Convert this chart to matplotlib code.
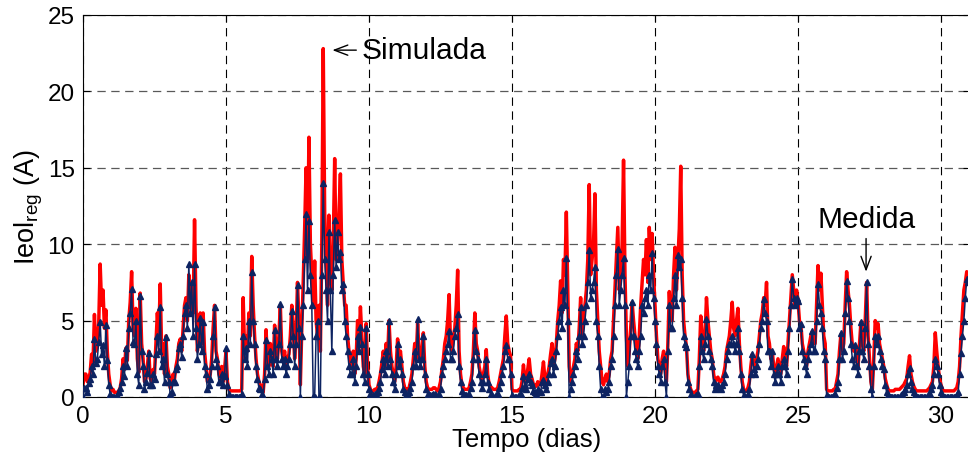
import numpy as np
import matplotlib
matplotlib.use("Agg")
import matplotlib.pyplot as plt

plt.rcParams['font.family'] = ['Liberation Sans', 'DejaVu Sans']
plt.rcParams['lines.scale_dashes'] = False

# amostragem de 0.05 dia (20 valores por dia)
dt = 0.05

# corrente simulada (A)
simulada = [
    0.8, 1.5, 1.5, 1.0, 1.2, 1.6, 2.8, 2.2, 5.4, 3.0, 3.5, 4.8, 8.7, 6.0, 7.0, 4.5, 5.7, 3.0, 1.5, 0.8,      # dia 0
    0.4, 0.5, 0.3, 0.3, 0.3, 0.4, 0.6, 1.2, 2.5, 1.8, 3.2, 2.4, 5.0, 6.2, 8.2, 4.5, 4.0, 5.8, 2.5, 1.6,      # dia 1
    6.8, 3.5, 2.5, 1.0, 1.2, 2.0, 3.0, 1.2, 1.0, 1.8, 1.5, 3.5, 5.5, 4.0, 7.4, 3.0, 3.5, 1.5, 4.0, 2.0,      # dia 2
    1.5, 0.6, 0.8, 1.5, 1.2, 2.0, 2.5, 3.5, 3.8, 3.0, 4.5, 6.0, 6.5, 5.0, 8.0, 6.0, 7.5, 5.5, 11.6, 6.0,     # dia 3
    3.0, 4.0, 5.5, 3.5, 5.5, 3.0, 2.0, 1.0, 1.0, 1.5, 2.5, 4.5, 6.0, 3.0, 2.5, 1.5, 1.2, 2.0, 1.0, 1.8,      # dia 4
    3.0, 1.0, 0.5, 0.4, 0.4, 0.4, 0.4, 0.4, 0.4, 0.4, 0.4, 0.5, 6.5, 3.0, 4.0, 3.0, 5.5, 4.0, 9.2, 6.0,      # dia 5
    4.0, 2.5, 1.5, 1.0, 0.8, 0.5, 0.3, 1.5, 4.4, 2.5, 2.0, 3.5, 3.0, 2.0, 4.7, 3.0, 2.5, 4.0, 6.0, 3.0,      # dia 6
    2.5, 3.0, 2.0, 2.5, 2.8, 4.0, 6.0, 4.5, 2.5, 4.0, 7.5, 5.0, 0.8, 4.5, 7.5, 11.0, 15.0, 9.0, 17.0, 10.0,  # dia 7
    8.0, 6.0, 8.9, 5.0, 4.0, 6.0, 3.0, 10.0, 22.8, 12.0, 9.5, 6.0, 11.9, 8.0, 7.0, 10.0, 15.6, 9.0, 10.0, 12.0,  # dia 8
    14.6, 9.0, 7.4, 6.0, 6.0, 4.0, 3.0, 2.0, 2.0, 3.0, 1.5, 2.5, 5.0, 3.5, 5.9, 4.0, 2.0, 1.5, 4.8, 2.0,    # dia 9
    0.8, 0.5, 0.3, 0.4, 0.5, 0.5, 0.6, 1.0, 1.5, 2.2, 3.0, 2.0, 3.5, 2.5, 5.0, 3.0, 2.0, 1.5, 1.0, 2.0,      # dia 10
    3.8, 2.5, 3.0, 2.0, 1.0, 0.6, 0.5, 0.5, 0.6, 1.0, 1.5, 2.5, 3.5, 2.5, 4.8, 3.0, 2.5, 3.0, 4.2, 2.0,      # dia 11
    1.0, 0.6, 0.5, 0.5, 0.5, 0.6, 0.6, 0.5, 0.4, 0.6, 1.0, 1.8, 2.5, 3.5, 4.0, 5.0, 6.7, 3.5, 3.0, 4.0,      # dia 12
    4.5, 6.0, 8.3, 3.0, 1.5, 0.8, 0.6, 0.5, 0.5, 0.5, 0.6, 1.0, 1.5, 3.0, 5.5, 3.5, 3.0, 2.0, 1.5, 1.0,      # dia 13
    1.5, 2.0, 3.1, 1.5, 0.8, 0.7, 0.6, 0.5, 0.5, 0.5, 0.6, 1.0, 1.5, 2.0, 2.5, 4.0, 5.3, 3.5, 3.0, 2.7,      # dia 14
    0.5, 0.4, 0.4, 0.4, 0.4, 0.5, 0.5, 1.0, 2.1, 1.2, 1.0, 1.8, 2.5, 1.5, 1.2, 0.8, 0.8, 0.7, 1.0, 0.8,      # dia 15
    0.8, 1.5, 2.3, 1.2, 1.0, 1.5, 2.0, 2.8, 3.5, 2.0, 2.5, 3.5, 5.0, 6.0, 7.6, 5.5, 9.0, 8.0, 12.1, 7.0,     # dia 16
    2.0, 1.0, 1.5, 2.0, 2.5, 3.5, 3.0, 4.5, 6.5, 4.0, 5.0, 6.0, 7.0, 9.0, 13.9, 8.0, 9.0, 10.0, 13.3, 7.0,   # dia 17
    5.0, 3.0, 2.0, 1.0, 0.8, 1.2, 1.5, 1.0, 1.5, 2.5, 3.0, 5.0, 7.0, 9.0, 11.1, 7.0, 8.0, 10.0, 15.5, 8.0,   # dia 18
    4.0, 2.0, 3.0, 4.5, 6.2, 5.0, 4.0, 3.0, 2.5, 4.0, 6.0, 7.5, 9.0, 8.0, 10.3, 7.5, 11.1, 9.0, 10.7, 8.0,   # dia 19
    6.0, 4.0, 2.5, 2.0, 1.5, 2.5, 3.0, 2.0, 1.0, 3.5, 6.9, 5.0, 5.0, 8.0, 9.8, 7.0, 9.0, 11.0, 15.1, 8.0,    # dia 20
    5.0, 4.0, 3.3, 1.5, 0.8, 0.5, 0.3, 0.3, 0.3, 0.4, 0.5, 2.5, 5.3, 4.0, 3.0, 4.0, 6.5, 5.0, 4.0, 3.0,      # dia 21
    2.5, 1.5, 1.0, 1.2, 1.3, 1.0, 1.0, 1.2, 1.5, 2.0, 3.0, 3.5, 4.0, 5.0, 6.2, 4.5, 4.0, 5.0, 5.8, 3.5,      # dia 22
    2.0, 1.0, 0.5, 0.4, 0.4, 0.6, 1.0, 2.0, 2.8, 2.2, 2.0, 2.5, 3.0, 4.0, 5.0, 5.5, 6.5, 6.0, 7.5, 4.0,      # dia 23
    3.5, 2.5, 3.0, 2.0, 1.5, 2.0, 2.5, 2.0, 1.5, 2.5, 3.3, 2.5, 2.0, 3.5, 5.0, 6.5, 8.0, 7.0, 6.0, 7.0,      # dia 24
    6.3, 5.0, 4.8, 3.5, 3.0, 2.5, 2.0, 3.0, 3.5, 4.0, 4.3, 3.5, 3.5, 6.0, 8.6, 7.0, 8.1, 6.0, 4.0, 3.5,      # dia 25
    0.5, 0.4, 0.4, 0.4, 0.4, 0.5, 0.5, 1.0, 1.5, 3.0, 4.1, 3.0, 3.5, 6.0, 8.2, 7.0, 6.0, 4.5, 3.4, 3.0,      # dia 26
    3.4, 2.5, 2.0, 3.5, 4.9, 3.5, 3.0, 5.0, 7.5, 4.0, 2.5, 1.0, 0.5, 2.5, 5.0, 4.5, 4.8, 3.5, 3.0, 2.5,      # dia 27
    2.0, 1.2, 0.8, 0.5, 0.4, 0.4, 0.4, 0.4, 0.5, 0.5, 0.5, 0.5, 0.6, 0.7, 0.8, 1.0, 1.2, 2.0, 2.7, 1.5,      # dia 28
    1.0, 0.7, 0.5, 0.4, 0.4, 0.4, 0.4, 0.4, 0.4, 0.4, 0.4, 0.5, 0.6, 0.8, 1.0, 2.0, 4.2, 3.0, 2.0, 1.2,      # dia 29
    0.8, 0.5, 0.4, 0.4, 0.4, 0.4, 0.4, 0.4, 0.4, 0.4, 0.5, 0.6, 1.0, 2.0, 4.0, 5.5, 7.0, 7.5, 8.2, 8.0,      # dia 30
]

# corrente medida (A)
medida = [
    0.0, 0.6, 0.6, 0.3, 0.9, 1.2, 2.0, 1.5, 3.8, 2.2, 2.5, 3.6, 4.9, 2.8, 3.4, 2.0, 4.7, 2.4, 0.8, 0.2,
    0.0, 0.0, 0.0, 0.0, 0.1, 0.3, 0.6, 1.0, 2.0, 1.4, 3.2, 2.0, 4.5, 5.5, 7.1, 3.6, 3.5, 5.0, 1.5, 0.8,
    6.6, 3.0, 2.0, 0.5, 1.0, 1.6, 2.9, 0.8, 0.8, 1.5, 1.2, 2.8, 4.0, 3.0, 5.9, 2.0, 2.5, 1.0, 3.9, 1.5,
    1.0, 0.2, 0.3, 1.0, 1.0, 1.8, 2.0, 3.2, 3.5, 2.6, 4.0, 5.5, 6.0, 4.5, 8.7, 5.5, 7.5, 4.0, 8.7, 4.5,
    2.5, 3.5, 5.2, 3.0, 4.9, 2.0, 1.5, 0.5, 0.8, 1.2, 2.0, 4.0, 5.9, 2.5, 2.0, 1.0, 1.0, 1.5, 0.8, 1.4,
    3.2, 0.8, 0.2, 0.0, 0.0, 0.0, 0.0, 0.0, 0.0, 0.0, 0.0, 0.2, 4.0, 2.5, 3.2, 2.0, 5.0, 3.5, 8.2, 5.0,
    3.5, 2.0, 1.2, 0.6, 0.5, 0.2, 0.0, 1.2, 3.7, 2.0, 1.5, 3.0, 2.5, 1.5, 4.4, 2.5, 2.0, 3.5, 6.1, 2.5,
    2.0, 2.5, 1.5, 2.0, 2.5, 3.5, 5.6, 4.0, 2.0, 3.5, 7.3, 4.5, 0.0, 4.0, 6.0, 9.0, 12.0, 7.0, 11.5, 8.0,
    6.0, 0.0, 0.0, 4.0, 5.0, 0.0, 0.0, 8.0, 14.0, 9.0, 7.0, 5.0, 10.8, 7.0, 3.0, 8.0, 11.6, 8.5, 10.8, 9.0,
    9.5, 7.0, 7.4, 5.0, 4.0, 3.0, 2.0, 1.5, 1.5, 2.5, 1.0, 2.0, 4.0, 3.0, 4.6, 3.5, 1.5, 1.0, 4.5, 1.5,
    0.5, 0.2, 0.0, 0.1, 0.2, 0.2, 0.3, 0.6, 1.0, 1.8, 2.5, 1.5, 3.0, 2.0, 5.0, 2.5, 1.5, 1.0, 0.5, 1.5,
    3.5, 2.0, 2.5, 1.5, 0.5, 0.3, 0.1, 0.1, 0.3, 0.6, 1.0, 2.0, 3.0, 2.0, 5.1, 2.5, 2.0, 2.5, 4.0, 1.5,
    0.5, 0.2, 0.1, 0.1, 0.1, 0.2, 0.2, 0.1, 0.0, 0.2, 0.5, 1.5, 2.0, 2.5, 3.0, 3.5, 4.3, 2.5, 2.5, 3.0,
    4.0, 4.5, 5.4, 2.0, 1.0, 0.4, 0.1, 0.1, 0.1, 0.1, 0.2, 0.6, 1.0, 2.5, 4.4, 3.0, 2.5, 1.5, 1.0, 0.6,
    1.0, 1.5, 2.5, 1.0, 0.5, 0.2, 0.1, 0.0, 0.0, 0.1, 0.2, 0.6, 1.0, 1.5, 2.0, 3.0, 3.4, 2.5, 2.5, 1.5,
    0.1, 0.0, 0.0, 0.0, 0.0, 0.1, 0.2, 0.6, 1.4, 0.8, 0.5, 1.2, 1.5, 1.0, 0.8, 0.4, 0.3, 0.2, 0.5, 0.3,
    0.3, 1.0, 1.1, 0.8, 0.5, 1.0, 1.5, 2.2, 2.5, 1.5, 2.0, 3.0, 4.0, 5.0, 5.9, 4.5, 7.0, 6.0, 9.1, 5.0,
    0.0, 0.5, 1.0, 1.5, 2.0, 3.0, 2.5, 4.0, 5.9, 3.5, 4.0, 5.0, 6.0, 7.5, 9.6, 6.5, 7.0, 7.5, 8.5, 5.0,
    4.0, 2.0, 0.5, 0.0, 0.0, 0.5, 0.3, 0.5, 1.0, 2.0, 2.5, 4.0, 6.0, 8.0, 9.7, 6.0, 7.0, 8.0, 9.1, 6.0,
    0.0, 1.0, 2.0, 4.0, 6.2, 4.0, 3.0, 2.5, 2.0, 3.0, 4.0, 6.0, 5.5, 6.5, 7.0, 6.0, 8.0, 7.0, 9.4, 6.5,
    5.0, 3.5, 2.0, 1.5, 1.0, 2.0, 2.5, 1.0, 0.0, 3.0, 6.0, 4.5, 4.5, 6.5, 8.0, 6.0, 9.3, 8.5, 9.0, 6.5,
    4.0, 3.5, 3.3, 1.0, 0.5, 0.2, 0.0, 0.0, 0.0, 0.1, 0.2, 2.0, 4.0, 3.0, 2.5, 3.5, 5.1, 4.0, 3.0, 2.5,
    2.0, 1.0, 0.5, 0.8, 0.8, 0.6, 0.5, 0.8, 1.0, 1.5, 2.5, 3.0, 3.5, 3.5, 4.0, 3.5, 3.0, 3.5, 4.5, 3.0,
    1.5, 0.5, 0.1, 0.0, 0.0, 0.2, 0.5, 1.5, 2.8, 1.8, 1.5, 2.0, 2.5, 3.5, 4.5, 5.0, 6.4, 5.5, 5.0, 3.0,
    3.0, 2.0, 3.0, 1.5, 1.0, 1.5, 2.0, 1.5, 1.0, 2.0, 2.5, 2.0, 1.5, 3.0, 4.5, 6.0, 7.7, 6.5, 6.0, 6.5,
    6.3, 4.5, 4.8, 3.0, 2.5, 2.0, 1.5, 2.5, 3.0, 3.5, 4.3, 3.0, 3.0, 5.0, 7.4, 6.0, 5.5, 4.5, 3.0, 2.5,
    0.1, 0.0, 0.0, 0.0, 0.0, 0.1, 0.2, 0.6, 1.0, 2.5, 4.2, 2.5, 3.0, 5.5, 7.6, 6.5, 5.0, 3.5, 2.5, 2.0,
    3.4, 2.0, 1.5, 3.0, 4.9, 3.0, 2.5, 4.5, 7.5, 3.5, 2.0, 0.5, 0.0, 2.0, 4.0, 3.5, 4.0, 3.0, 2.5, 2.0,
    1.8, 0.8, 0.3, 0.1, 0.0, 0.0, 0.0, 0.0, 0.0, 0.0, 0.0, 0.0, 0.1, 0.2, 0.3, 0.5, 0.8, 1.5, 1.9, 1.0,
    0.5, 0.3, 0.1, 0.0, 0.0, 0.0, 0.0, 0.0, 0.0, 0.0, 0.0, 0.1, 0.2, 0.5, 0.8, 1.5, 2.5, 2.0, 1.5, 0.8,
    0.3, 0.1, 0.0, 0.0, 0.0, 0.0, 0.0, 0.0, 0.0, 0.0, 0.0, 0.1, 0.3, 1.5, 2.9, 4.0, 5.0, 6.5, 7.7, 7.5,
]

tempo = np.arange(len(simulada)) * dt

fig = plt.figure(figsize=(9.68, 4.56), dpi=100)
ax = fig.add_axes([83 / 968, 58 / 456, 886.6 / 968, 382 / 456])

ax.plot(tempo, simulada, color='#ff0000', lw=2.5, zorder=2)
ax.plot(tempo, medida, color='#0d2361', lw=1.1, marker='^', ms=5,
        mec='#0d2361', mfc='#0d2361', zorder=3)

ax.set_xlim(0, 31)
ax.set_ylim(0, 25)
ax.set_xticks([0, 5, 10, 15, 20, 25, 30])
ax.set_yticks([0, 5, 10, 15, 20, 25])
ax.tick_params(direction='in', length=5, top=True, right=True, labelsize=17.5, pad=6)

ax.set_axisbelow(True)
ax.xaxis.grid(True, color='k', lw=0.8, linestyle=(0, (6, 4)))
ax.yaxis.grid(True, color='0.35', lw=0.9, linestyle=(0, (6, 4)))

ax.set_xlabel('Tempo (dias)', fontsize=18.5, labelpad=0)
ax.set_ylabel(r'Ieol$_\mathregular{reg}$ (A)', fontsize=19.5, labelpad=2)

seta = dict(arrowstyle='->, head_length=0.45, head_width=0.17', color='k', lw=1.0)
ax.annotate('Simulada', xy=(8.72, 22.7), xytext=(9.75, 22.7), fontsize=21.5,
            va='center', ha='left', arrowprops=dict(seta, shrinkA=2, shrinkB=0))
ax.annotate('Medida', xy=(27.38, 8.2), xytext=(27.38, 11.65), fontsize=21.5,
            va='center', ha='center', arrowprops=dict(seta, shrinkA=2, shrinkB=0))

fig.savefig('out.png', dpi=100)
